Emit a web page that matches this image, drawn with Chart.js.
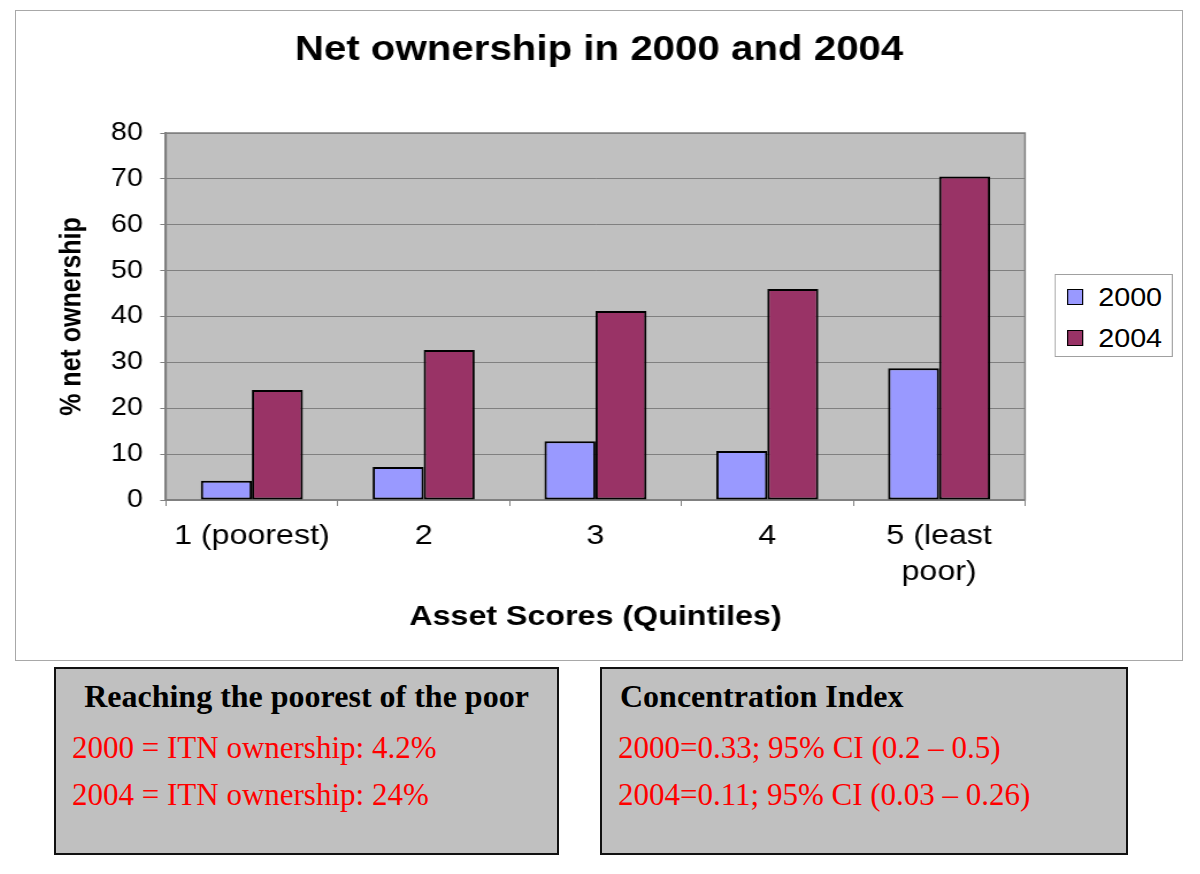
<!DOCTYPE html>
<html>
<head>
<meta charset="utf-8">
<title>Net ownership in 2000 and 2004</title>
<script src="https://cdn.jsdelivr.net/npm/chart.js@4.4.1/dist/chart.umd.min.js"></script>
<style>
  html, body { margin: 0; padding: 0; background: #fff; }
  body { width: 1200px; height: 874px; position: relative; overflow: hidden; }
  #frame { position: absolute; left: 15px; top: 10px; width: 1166px; height: 649px; border: 1px solid #a8a8a8; }
  /* the source picture is stretched sideways, so the chart is too */
  #chartWrap { position: absolute; left: 16px; top: 11px; width: 1014px; height: 649px;
               transform: scaleX(1.15); transform-origin: 0 0; }
  #legend { position: absolute; left: 903px; top: 263px; width: 103px; height: 83px;
            border: 1px solid #a0a0a0; background: #fff; box-sizing: border-box;
            font-family: 'Liberation Sans', Arial, sans-serif; font-size: 25px; }
  .lg-row { position: absolute; left: 10px; height: 30px; line-height: 30px; white-space: nowrap; }
  .lg-sw { display: inline-block; width: 12px; height: 14px; border: 1px solid #000;
           vertical-align: middle; margin-right: 13px; position: relative; top: -2px; }
  .box { position: absolute; top: 667px; height: 188px; background: #c0c0c0;
         border: 2px solid #111; box-sizing: border-box;
         font-family: 'Liberation Serif', 'Times New Roman', serif; font-size: 31px; }
  .box div { position: absolute; line-height: 31px; white-space: nowrap; }
  .hd { font-weight: bold; color: #000; font-size: 32px; }
  .red { color: #f00; }
</style>
</head>
<body>
<div id="frame"></div>
<div id="chartWrap">
  <canvas id="ownChart" width="1014" height="649"></canvas>
  <div id="legend"></div>
</div>

<div class="box" style="left:54px; width:505px;">
  <div class="hd" style="left:0; width:501px; text-align:center; top:12px;">Reaching the poorest of the poor</div>
  <div class="red" style="left:16px; top:63px;">2000 = ITN ownership: 4.2%</div>
  <div class="red" style="left:16px; top:110px;">2004 = ITN ownership: 24%</div>
</div>
<div class="box" style="left:600px; width:528px;">
  <div class="hd" style="left:18px; top:12px;">Concentration Index</div>
  <div class="red" style="left:16px; top:63px;">2000=0.33; 95% CI (0.2 – 0.5)</div>
  <div class="red" style="left:16px; top:110px;">2004=0.11; 95% CI (0.03 – 0.26)</div>
</div>

<script>
// values
const quintiles = ['1 (poorest)', '2', '3', '4', ['5 (least', 'poor)']];
const yearNames = ['2000', '2004'];
const own2000 = [4.2, 7.2, 12.8, 10.7, 28.7];
const own2004 = [24.0, 32.7, 41.2, 46.0, 70.5];
const yMax = 80;
const yStep = 10;

const barColors = ['#9999ff', '#993366'];
const sansFont = "'Liberation Sans', Arial, sans-serif";

// grey plot area with a thin border, like the old excel look
const plotBack = {
    id: 'plotBack',
    beforeDraw(chart) {
        const a = chart.chartArea;
        const ctx = chart.ctx;
        ctx.save();
        ctx.fillStyle = '#c0c0c0';
        ctx.fillRect(a.left, a.top, a.right - a.left, a.bottom - a.top);
        ctx.restore();
    },
    beforeDatasetsDraw(chart) {
        const a = chart.chartArea;
        const ctx = chart.ctx;
        ctx.save();
        ctx.strokeStyle = '#808080';
        ctx.lineWidth = 1.5;
        ctx.strokeRect(a.left, a.top, a.right - a.left, a.bottom - a.top);
        ctx.restore();
    }
};

const ctx = document.getElementById('ownChart').getContext('2d');
const chart = new Chart(ctx, {
    type: 'bar',
    data: {
        labels: quintiles,
        datasets: [{
            label: yearNames[0],
            data: own2000,
            backgroundColor: barColors[0],
            borderColor: '#000',
            borderWidth: 2,
            borderSkipped: false
        }, {
            label: yearNames[1],
            data: own2004,
            backgroundColor: barColors[1],
            borderColor: '#000',
            borderWidth: 2,
            borderSkipped: false
        }]
    },
    options: {
        responsive: false,
        animation: false,
        devicePixelRatio: 1,
        layout: { padding: 0 },
        datasets: { bar: { categoryPercentage: 0.594, barPercentage: 1.0 } },
        plugins: {
            legend: { display: false },
            tooltip: { enabled: false },
            title: {
                display: true,
                text: 'Net ownership in 2000 and 2004',
                color: '#000',
                font: { family: sansFont, size: 35, weight: 'bold', lineHeight: 1.2 },
                padding: { top: 18.5, bottom: 61.5 }
            }
        },
        scales: {
            x: {
                afterFit(scale) { scale.height = 160; },
                grid: { offset: true, drawOnChartArea: false, drawTicks: true, tickLength: 6, color: '#808080' },
                border: { display: true, color: '#808080', width: 1.5 },
                ticks: {
                    color: '#000',
                    padding: 12.6,
                    maxRotation: 0,
                    autoSkip: false,
                    font: { family: sansFont, size: 28, lineHeight: 1.28 }
                },
                title: {
                    display: true,
                    text: 'Asset Scores (Quintiles)',
                    color: '#000',
                    font: { family: sansFont, size: 28, weight: 'bold', lineHeight: 1.2 },
                    padding: { top: 0, bottom: 26.2 }
                }
            },
            y: {
                min: 0,
                max: yMax,
                afterFit(scale) { scale.width = 130.4; },
                grid: { color: '#808080', lineWidth: 1, drawTicks: true, tickLength: 5 },
                border: { display: true, color: '#808080', width: 2 },
                ticks: {
                    stepSize: yStep,
                    color: '#000',
                    padding: 15,
                    font: { family: sansFont, size: 25 }
                },
                title: {
                    display: true,
                    text: '% net ownership',
                    color: '#000',
                    font: { family: sansFont, size: 25, weight: 'bold', lineHeight: 1.2 },
                    padding: { top: 34, bottom: 0 }
                }
            },
            // empty right axis, only keeps room for the legend
            yRoom: {
                position: 'right',
                min: 0,
                max: yMax,
                afterFit(scale) { scale.width = 136.6; },
                grid: { display: false },
                border: { display: false },
                ticks: { display: false }
            }
        }
    },
    plugins: [plotBack]
});

// legend box on the right
const legend = document.getElementById('legend');
yearNames.forEach(function (name, i) {
    const row = document.createElement('div');
    row.className = 'lg-row';
    row.style.top = (7 + i * 41) + 'px';
    const sw = document.createElement('span');
    sw.className = 'lg-sw';
    sw.style.background = barColors[i];
    row.appendChild(sw);
    row.appendChild(document.createTextNode(name));
    legend.appendChild(row);
});
</script>
</body>
</html>
